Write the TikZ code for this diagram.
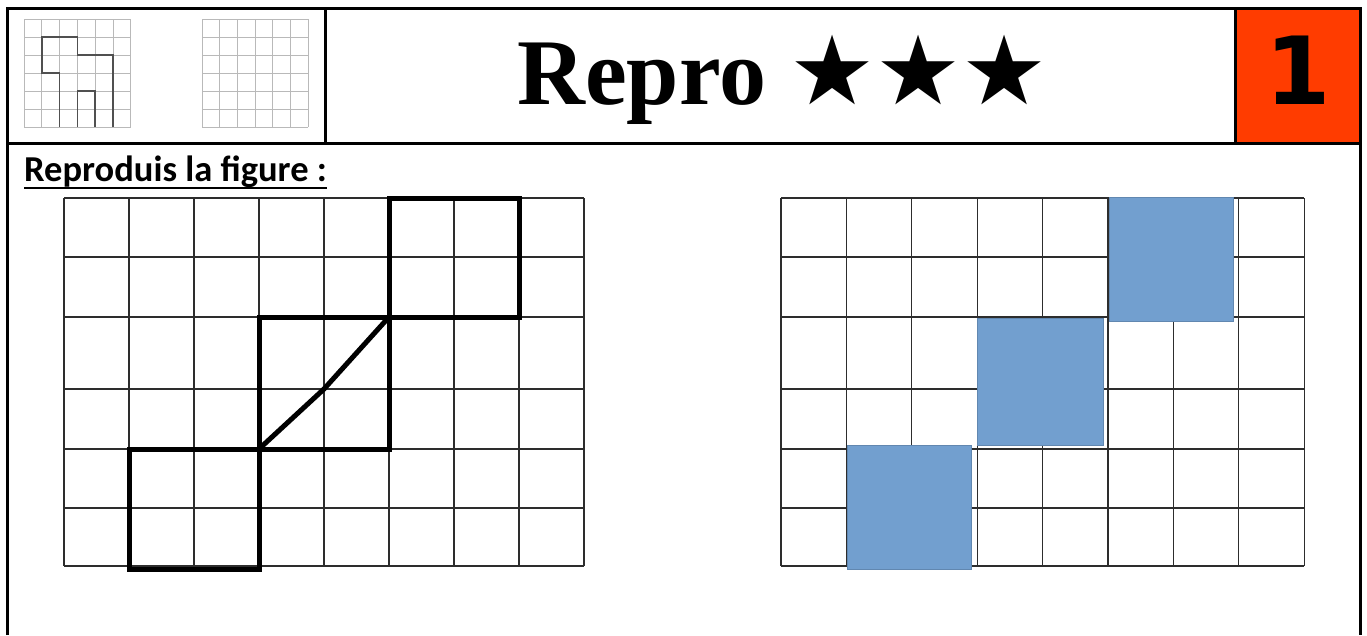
\documentclass[tikz,border=0pt]{standalone}
\usepackage{fontspec}
\usepackage{tikz}
\setmainfont{Liberation Serif}
\newfontfamily\labelfont{Carlito}
\newfontfamily\symbolfont{DejaVu Sans}
\definecolor{numberred}{RGB}{255, 60, 0}
\definecolor{squareblue}{RGB}{114, 159, 207}
\definecolor{gridgray}{RGB}{45, 45, 45}
\definecolor{icongray}{RGB}{185, 185, 185}
\definecolor{iconshape}{RGB}{80, 80, 80}
\usetikzlibrary{positioning}

\begin{document}
\begin{tikzpicture}[
        x=1pt, y=-1pt,
        frame/.style={line width=3pt, black},
        gridline/.style={line width=1.3pt, gridgray},
        icongrid/.style={line width=1pt, icongray},
        iconpath/.style={line width=1.6pt, iconshape},
        figureline/.style={line width=5pt, black, line join=miter},
        bluesquare/.style={fill=squareblue, draw=squareblue!85!black, line width=0.8pt},
    ]
        \useasboundingbox (0,0) rectangle (1367,635);

        % Header
        \fill[numberred] (1235,8) rectangle (1359,143);
        \draw[frame] (7,635) -- (7,8) -- (1360,8) -- (1360,635);
        \draw[frame] (7,143) -- (1360,143);
        \draw[frame] (325,8) -- (325,143);
        \draw[frame] (1235,8) -- (1235,143);

        \node[anchor=base west, inner sep=0pt] (title) at (517,104)
            {\fontsize{94}{94}\selectfont\bfseries Repro {\symbolfont\fontsize{96}{96}\selectfont ★★★}};
        \node[inner sep=0pt, font=\symbolfont\bfseries\fontsize{94}{94}\selectfont] (num) at (1298,70) {1};

        % Small icons
        \foreach \i in {0,...,6} {
            \draw[icongrid] (24+17.8*\i,19) -- (24+17.8*\i,127);
            \draw[icongrid] (24,19+18*\i) -- (131,19+18*\i);
            \draw[icongrid] (202+17.7*\i,19) -- (202+17.7*\i,127);
            \draw[icongrid] (202,19+18*\i) -- (308,19+18*\i);
        }
        \begin{scope}[shift={(24,19)}, x=17.8pt, y=-18pt]
            \draw[iconpath] (5,6) -- (5,2) -- (3,2) -- (3,1) -- (1,1) -- (1,3) -- (2,3) -- (2,6);
            \draw[iconpath] (3,6) -- (3,4) -- (4,4) -- (4,6);
        \end{scope}

        % Instruction
        \node[anchor=base west, inner sep=0pt] (instr) at (24,181)
            {\labelfont\bfseries\fontsize{36.5}{36.5}\selectfont Reproduis la figure :};
        \draw[line width=2.4pt] ([yshift=-7pt]instr.base west) -- ([yshift=-7pt]instr.base east);

        % Left grid with model
        \foreach \c in {0,...,8}
            \draw[gridline] (64+65*\c,198) -- (64+65*\c,566);
        \foreach \r in {198,257,317,389,449,508,566}
            \draw[gridline] (64,\r) -- (584,\r);
        \draw[figureline] (389,198) rectangle (519,317);
        \draw[figureline] (259,317) rectangle (389,449);
        \draw[figureline] (129,449) rectangle (259,569);
        \draw[figureline] (259,449) -- (324,389) -- (389,317);

        % Right grid with squares
        \foreach \c in {0,...,8}
            \draw[gridline] (781+65.4*\c,198) -- (781+65.4*\c,566);
        \foreach \r in {198,257,317,389,449,508,566}
            \draw[gridline] (781,\r) -- (1304,\r);
        \draw[bluesquare] (1109,197) rectangle (1233,321);
        \draw[bluesquare] (977,318) rectangle (1103,445);
        \draw[bluesquare] (847,445) rectangle (971,569);

    \end{tikzpicture}
\end{document}
